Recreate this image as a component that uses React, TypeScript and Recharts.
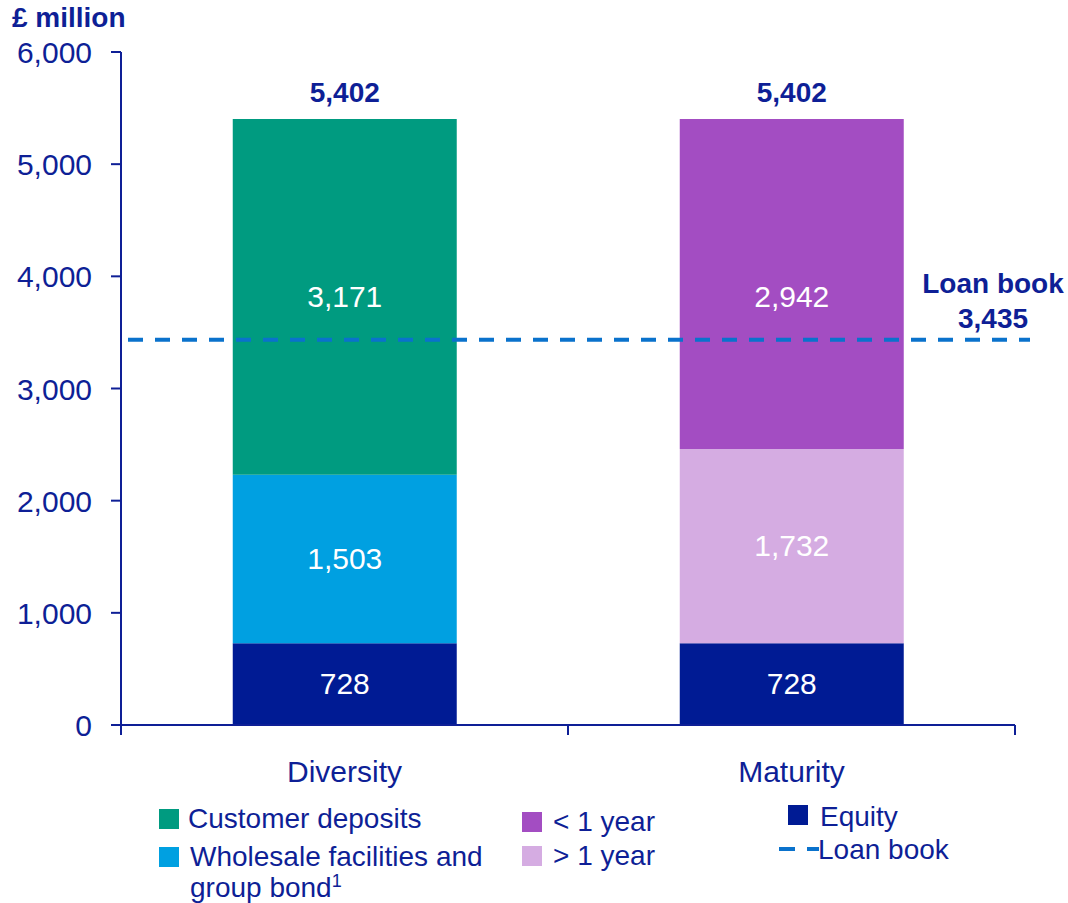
import React from 'react';
import { BarChart, Bar, XAxis, YAxis, ReferenceLine, LabelList } from 'recharts';

const NAVY = '#0E1F96';
const FONT = '"Liberation Sans", Arial, sans-serif';

const categories = ['Diversity', 'Maturity'];
const equity = [728, 728];
const wholesale = [1503, 0];
const deposits = [3171, 0];
const overOneYear = [0, 1732];
const underOneYear = [0, 2942];
const totals = [5402, 5402];
const yTicks = [0, 1000, 2000, 3000, 4000, 5000, 6000];
const LOAN_BOOK = 3435;

const data = categories.map((name, i) => ({
  name,
  equity: equity[i],
  wholesale: wholesale[i],
  deposits: deposits[i],
  gt1: overOneYear[i],
  lt1: underOneYear[i],
  total: totals[i],
}));

// stack order, bottom to top; top series carry the total label
const series = [
  { key: 'equity', color: '#001B94', shift: 0, top: false },
  { key: 'wholesale', color: '#00A0E1', shift: 0, top: false },
  { key: 'deposits', color: '#009B80', shift: 0, top: true },
  { key: 'gt1', color: '#D5ACE2', shift: 0, top: false },
  { key: 'lt1', color: '#A34DC2', shift: 13, top: true },
];

const fmt = (v: number) => v.toLocaleString('en-GB');

const InnerLabel = (props: any) => {
  const { x, y, width, height, value, shift } = props;
  if (!value) return null;
  return (
    <text x={x + width / 2} y={y + height / 2 + (shift || 0)} dy={10} textAnchor="middle" fill="#fff" fontSize={30} fontFamily={FONT}>
      {fmt(value)}
    </text>
  );
};

const TotalLabel = (props: any) => {
  const { x, y, width, height, value } = props;
  if (!height) return null;
  return (
    <text x={x + width / 2} y={y - 17} textAnchor="middle" fill={NAVY} fontSize={28} fontWeight="bold" fontFamily={FONT}>
      {fmt(value)}
    </text>
  );
};

const YTick = (props: any) => {
  const { x, y, payload } = props;
  return (
    <text x={x} y={y} dy={11} textAnchor="end" fill={NAVY} fontSize={30} fontFamily={FONT}>
      {fmt(payload.value)}
    </text>
  );
};

const XTick = (props: any) => {
  const { x, y, payload, index } = props;
  const half = payload.offset || 223.5;
  return (
    <g>
      <line x1={x - half} x2={x - half} y1={y} y2={y + 10} stroke={NAVY} strokeWidth={2} />
      {index === categories.length - 1 && (
        <line x1={x + half} x2={x + half} y1={y} y2={y + 10} stroke={NAVY} strokeWidth={2} />
      )}
      <text x={x} y={y + 57} textAnchor="middle" fill={NAVY} fontSize={30} fontFamily={FONT}>
        {payload.value}
      </text>
    </g>
  );
};

const LoanLine = (props: any) => {
  const { x1, x2, y1 } = props;
  return (
    <g>
      <line x1={x1 + 7} x2={x2 + 15} y1={y1} y2={y1} stroke="#0A72CC" strokeWidth={4} strokeDasharray="15 12" />
      <text x={x2 - 22} y={y1 - 47} textAnchor="middle" fill={NAVY} fontSize={28} fontWeight="bold" fontFamily={FONT}>
        Loan book
      </text>
      <text x={x2 - 22} y={y1 - 12} textAnchor="middle" fill={NAVY} fontSize={28} fontWeight="bold" fontFamily={FONT}>
        {fmt(LOAN_BOOK)}
      </text>
    </g>
  );
};

const legendText: React.CSSProperties = {
  position: 'absolute',
  color: NAVY,
  fontSize: 28,
  lineHeight: '31px',
  whiteSpace: 'nowrap',
};

const Swatch = ({ left, top, color }: { left: number; top: number; color: string }) => (
  <div style={{ position: 'absolute', left, top, width: 20, height: 20, background: color }} />
);

export default function App() {
  return (
    <div style={{ position: 'absolute', left: 0, top: 0, width: 1068, height: 903, background: '#fff', fontFamily: FONT }}>
      <div style={{ position: 'absolute', left: 12, top: 2, color: NAVY, fontSize: 28, fontWeight: 'bold', lineHeight: '32px' }}>
        £ million
      </div>
      <BarChart width={1068} height={903} data={data} margin={{ top: 52, right: 53, left: 0, bottom: 118 }} barCategoryGap="25%">
        <YAxis
          width={121}
          domain={[0, 6000]}
          ticks={yTicks}
          interval={0}
          tick={<YTick />}
          tickSize={10}
          tickMargin={19}
          axisLine={{ stroke: NAVY, strokeWidth: 2 }}
          tickLine={{ stroke: NAVY, strokeWidth: 2 }}
        />
        <XAxis
          dataKey="name"
          height={60}
          tick={<XTick />}
          tickLine={false}
          tickSize={0}
          tickMargin={0}
          axisLine={{ stroke: NAVY, strokeWidth: 2 }}
        />
        {series.map((s) => (
          <Bar key={s.key} dataKey={s.key} stackId="a" fill={s.color} isAnimationActive={false}>
            <LabelList dataKey={s.key} content={<InnerLabel shift={s.shift} />} />
            {s.top && <LabelList dataKey="total" content={<TotalLabel />} />}
          </Bar>
        ))}
        <ReferenceLine y={LOAN_BOOK} shape={<LoanLine />} />
      </BarChart>

      <Swatch left={159} top={809} color="#009B80" />
      <div style={{ ...legendText, left: 188, top: 803 }}>Customer deposits</div>
      <Swatch left={159} top={847} color="#00A0E1" />
      <div style={{ ...legendText, left: 190, top: 841 }}>
        Wholesale facilities and
        <br />
        group bond<sup style={{ fontSize: 18, lineHeight: 0 }}>1</sup>
      </div>

      <Swatch left={522} top={812} color="#A34DC2" />
      <div style={{ ...legendText, left: 553, top: 806 }}>&lt; 1 year</div>
      <Swatch left={522} top={846} color="#D5ACE2" />
      <div style={{ ...legendText, left: 553, top: 840 }}>&gt; 1 year</div>

      <Swatch left={788} top={805} color="#001B94" />
      <div style={{ ...legendText, left: 820, top: 801 }}>Equity</div>
      <svg style={{ position: 'absolute', left: 779, top: 847 }} width={40} height={6}>
        <line x1={0} x2={40} y1={2} y2={2} stroke="#0A72CC" strokeWidth={4} strokeDasharray="16 12" />
      </svg>
      <div style={{ ...legendText, left: 818, top: 834 }}>Loan book</div>
    </div>
  );
}
